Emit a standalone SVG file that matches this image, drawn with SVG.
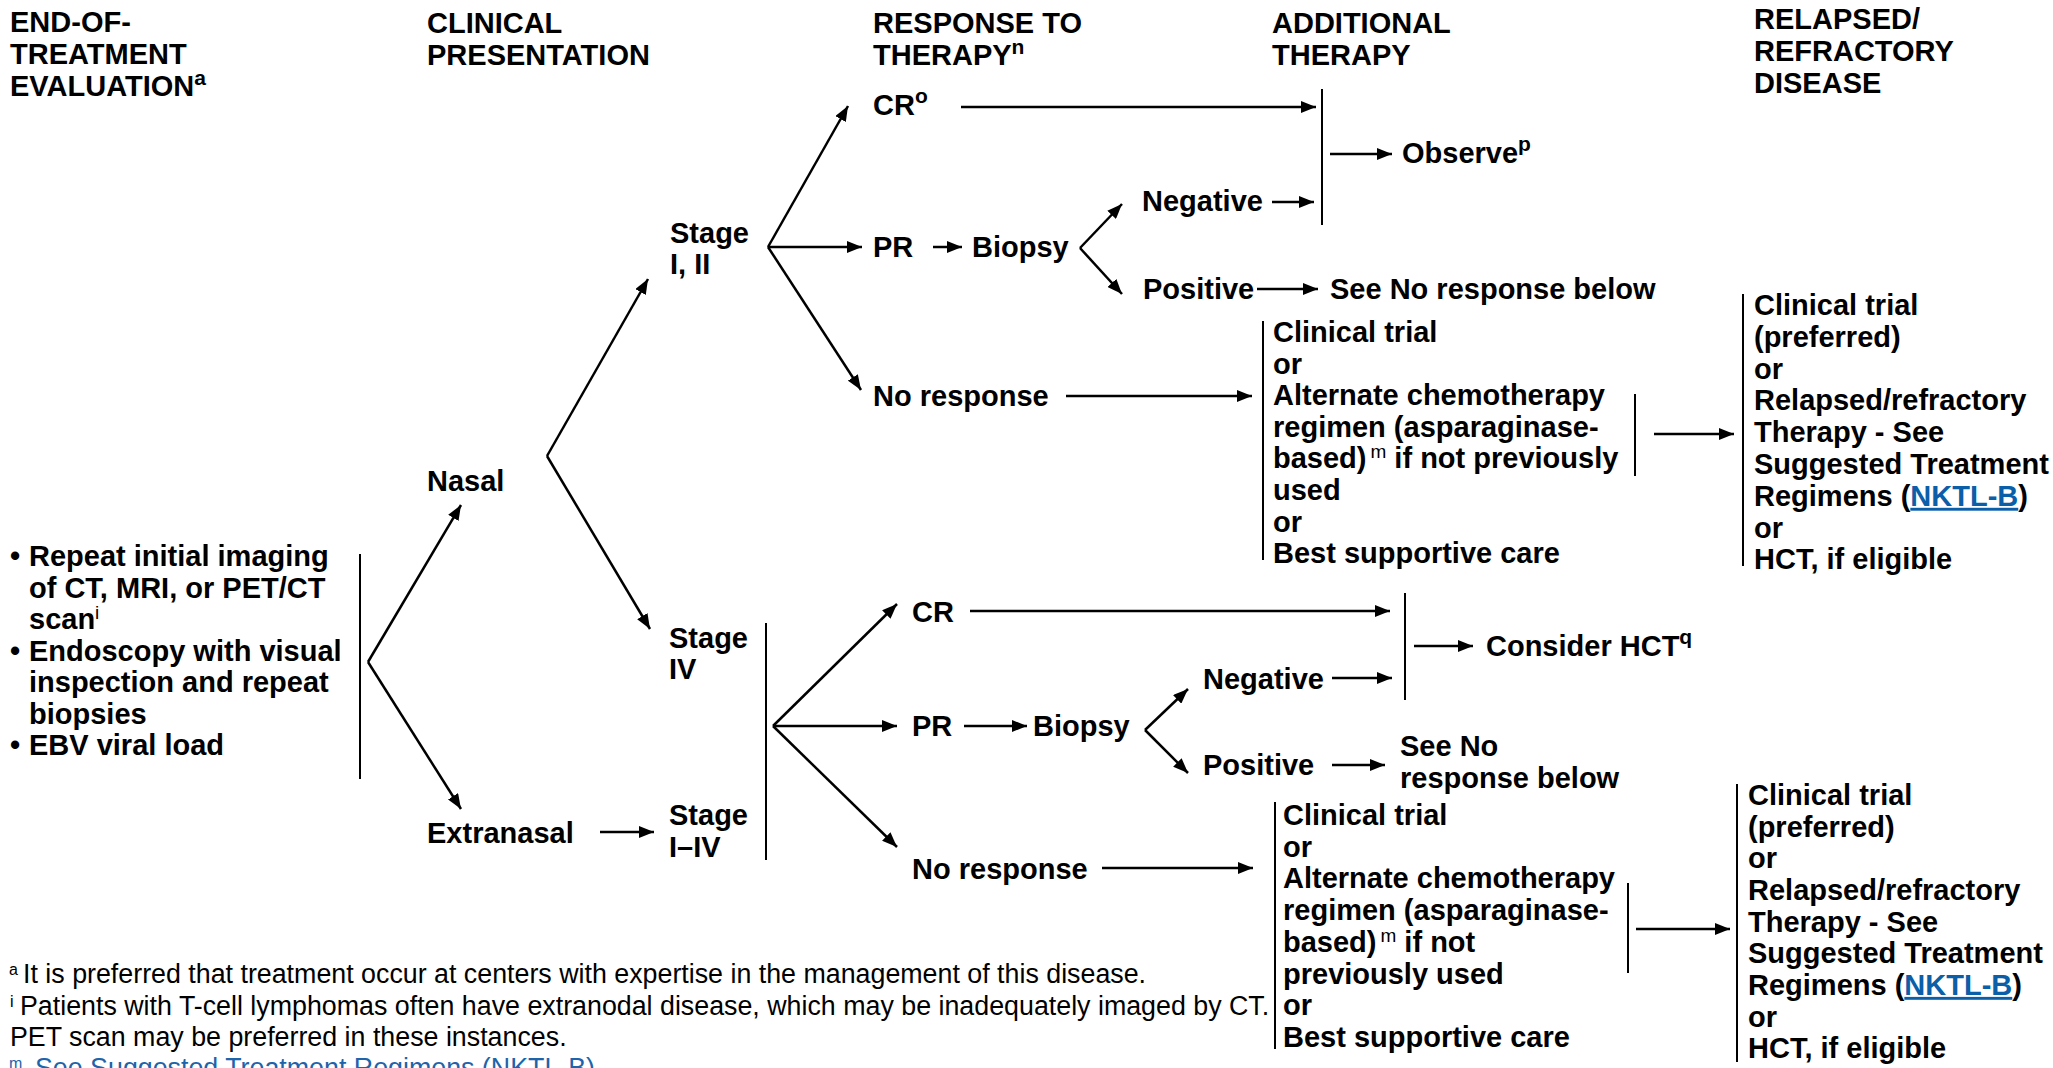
<svg xmlns="http://www.w3.org/2000/svg" width="2053" height="1068" viewBox="0 0 2053 1068">
  <style>
    text { font-family: "Liberation Sans", Arial, Helvetica, sans-serif; fill: #000; }
    .h { font-size: 29px; font-weight: bold; }
    .b { font-size: 29px; font-weight: bold; }
    .sup { font-size: 21px; font-weight: bold; }
    .supn { font-size: 19px; font-weight: normal; }
    .fn { font-size: 26.8px; font-weight: normal; }
    .fsup { font-size: 16px; font-weight: normal; }
    .link { fill: #0b5ea8; text-decoration: underline; }
    .flink { fill: #1d64ab; }
    .arr { stroke: #000; stroke-width: 2.5; fill: none; marker-end: url(#ah); }
    .bar { stroke: #000; stroke-width: 2; fill: none; }
  </style>
  <defs>
    <marker id="ah" markerUnits="userSpaceOnUse" markerWidth="16" markerHeight="12" refX="15" refY="6" orient="auto">
      <path d="M0,0 L15,6 L0,12 z" fill="#000"/>
    </marker>
  </defs>
  <rect width="2053" height="1068" fill="#fff"/>

  <!-- column headings -->
  <g id="headings">
    <text class="h" x="10" y="32">END-OF-</text>
    <text class="h" x="10" y="64">TREATMENT</text>
    <text class="h" x="10" y="96">EVALUATION<tspan class="sup" dy="-11">a</tspan></text>
    <text class="h" x="427" y="33">CLINICAL</text>
    <text class="h" x="427" y="65">PRESENTATION</text>
    <text class="h" x="873" y="33">RESPONSE TO</text>
    <text class="h" x="873" y="65">THERAPY<tspan class="sup" dy="-11">n</tspan></text>
    <text class="h" x="1272" y="33">ADDITIONAL</text>
    <text class="h" x="1272" y="65">THERAPY</text>
    <text class="h" x="1754" y="29">RELAPSED/</text>
    <text class="h" x="1754" y="61">REFRACTORY</text>
    <text class="h" x="1754" y="93">DISEASE</text>
  </g>

  <!-- evaluation -->
  <g id="evaluation">
    <text class="b" x="10" y="566">•</text>
    <text class="b" x="29" y="566">Repeat initial imaging</text>
    <text class="b" x="29" y="597.5">of CT, MRI, or PET/CT</text>
    <text class="b" x="29" y="629">scan<tspan class="supn" dy="-10">i</tspan></text>
    <text class="b" x="10" y="660.5">•</text>
    <text class="b" x="29" y="660.5">Endoscopy with visual</text>
    <text class="b" x="29" y="692">inspection and repeat</text>
    <text class="b" x="29" y="723.5">biopsies</text>
    <text class="b" x="10" y="755">•</text>
    <text class="b" x="29" y="755">EBV viral load</text>
  </g>

  <g id="nasal"><text class="b" x="427" y="491">Nasal</text></g>
  <g id="extranasal"><text class="b" x="427" y="843">Extranasal</text></g>

  <g id="stage-1-2">
    <text class="b" x="670" y="243">Stage</text>
    <text class="b" x="670" y="274">I, II</text>
  </g>
  <g id="stage-4">
    <text class="b" x="669" y="648">Stage</text>
    <text class="b" x="669" y="679">IV</text>
  </g>
  <g id="stage-1-4">
    <text class="b" x="669" y="825">Stage</text>
    <text class="b" x="669" y="857">I–IV</text>
  </g>

  <!-- upper branch: stage I, II -->
  <g id="cr-top"><text class="b" x="873" y="115">CR<tspan class="sup" dy="-12">o</tspan></text></g>
  <g id="pr-top"><text class="b" x="873" y="257">PR</text></g>
  <g id="biopsy-top"><text class="b" x="972" y="257">Biopsy</text></g>
  <g id="negative-top"><text class="b" x="1142" y="211">Negative</text></g>
  <g id="positive-top"><text class="b" x="1143" y="299">Positive</text></g>
  <g id="see-top"><text class="b" x="1330" y="299">See No response below</text></g>
  <g id="observe"><text class="b" x="1402" y="163">Observe<tspan class="sup" dy="-12">p</tspan></text></g>
  <g id="noresp-top"><text class="b" x="873" y="406">No response</text></g>

  <g id="options-top">
    <text class="b" x="1273" y="342">Clinical trial</text>
    <text class="b" x="1273" y="373.6">or</text>
    <text class="b" x="1273" y="405.2">Alternate chemotherapy</text>
    <text class="b" x="1273" y="436.8">regimen (asparaginase-</text>
    <text class="b" x="1273" y="468.4">based)<tspan class="supn" dx="4" dy="-10">m</tspan><tspan dy="10"> if not previously</tspan></text>
    <text class="b" x="1273" y="500">used</text>
    <text class="b" x="1273" y="531.6">or</text>
    <text class="b" x="1273" y="563.2">Best supportive care</text>
  </g>

  <g id="relapsed-top">
    <text class="b" x="1754" y="315">Clinical trial</text>
    <text class="b" x="1754" y="346.8">(preferred)</text>
    <text class="b" x="1754" y="378.6">or</text>
    <text class="b" x="1754" y="410.4">Relapsed/refractory</text>
    <text class="b" x="1754" y="442.2">Therapy - See</text>
    <text class="b" x="1754" y="474">Suggested Treatment</text>
    <text class="b" x="1754" y="505.8">Regimens (<tspan class="link">NKTL-B</tspan>)</text>
    <text class="b" x="1754" y="537.6">or</text>
    <text class="b" x="1754" y="569.4">HCT, if eligible</text>
  </g>

  <!-- lower branch: stage IV and extranasal -->
  <g id="cr-bottom"><text class="b" x="912" y="622">CR</text></g>
  <g id="pr-bottom"><text class="b" x="912" y="736">PR</text></g>
  <g id="biopsy-bottom"><text class="b" x="1033" y="736">Biopsy</text></g>
  <g id="negative-bottom"><text class="b" x="1203" y="689">Negative</text></g>
  <g id="positive-bottom"><text class="b" x="1203" y="775">Positive</text></g>
  <g id="see-bottom">
    <text class="b" x="1400" y="756">See No</text>
    <text class="b" x="1400" y="788">response below</text>
  </g>
  <g id="consider-hct"><text class="b" x="1486" y="656">Consider HCT<tspan class="sup" dy="-12">q</tspan></text></g>
  <g id="noresp-bottom"><text class="b" x="912" y="879">No response</text></g>

  <g id="options-bottom">
    <text class="b" x="1283" y="825">Clinical trial</text>
    <text class="b" x="1283" y="856.7">or</text>
    <text class="b" x="1283" y="888.4">Alternate chemotherapy</text>
    <text class="b" x="1283" y="920.1">regimen (asparaginase-</text>
    <text class="b" x="1283" y="951.8">based)<tspan class="supn" dx="4" dy="-10">m</tspan><tspan dy="10"> if not</tspan></text>
    <text class="b" x="1283" y="983.5">previously used</text>
    <text class="b" x="1283" y="1015.2">or</text>
    <text class="b" x="1283" y="1046.9">Best supportive care</text>
  </g>

  <g id="relapsed-bottom">
    <text class="b" x="1748" y="805">Clinical trial</text>
    <text class="b" x="1748" y="836.6">(preferred)</text>
    <text class="b" x="1748" y="868.3">or</text>
    <text class="b" x="1748" y="899.9">Relapsed/refractory</text>
    <text class="b" x="1748" y="931.6">Therapy - See</text>
    <text class="b" x="1748" y="963.2">Suggested Treatment</text>
    <text class="b" x="1748" y="994.9">Regimens (<tspan class="link">NKTL-B</tspan>)</text>
    <text class="b" x="1748" y="1026.5">or</text>
    <text class="b" x="1748" y="1058.2">HCT, if eligible</text>
  </g>

  <!-- connectors -->
  <g id="connectors">
    <line class="bar" x1="360" y1="554" x2="360" y2="779"/>
    <line class="arr" x1="368" y1="662" x2="461" y2="505"/>
    <line class="arr" x1="368" y1="662" x2="461" y2="809"/>

    <line class="arr" x1="547" y1="456" x2="648" y2="279"/>
    <line class="arr" x1="547" y1="456" x2="650" y2="629"/>

    <line class="arr" x1="768" y1="247" x2="848" y2="106"/>
    <line class="arr" x1="768" y1="247" x2="862" y2="247"/>
    <line class="arr" x1="768" y1="247" x2="861" y2="390"/>

    <line class="arr" x1="961" y1="107" x2="1316" y2="107"/>
    <line class="bar" x1="1322" y1="89" x2="1322" y2="225"/>
    <line class="arr" x1="1330" y1="154" x2="1392" y2="154"/>
    <line class="arr" x1="933" y1="247" x2="962" y2="247"/>
    <line class="arr" x1="1080" y1="248" x2="1122" y2="204"/>
    <line class="arr" x1="1080" y1="248" x2="1122" y2="294"/>
    <line class="arr" x1="1272" y1="202" x2="1314" y2="202"/>
    <line class="arr" x1="1257" y1="289" x2="1318" y2="289"/>
    <line class="arr" x1="1066" y1="396" x2="1252" y2="396"/>
    <line class="bar" x1="1263" y1="321" x2="1263" y2="560"/>
    <line class="bar" x1="1635" y1="394" x2="1635" y2="476"/>
    <line class="arr" x1="1654" y1="434" x2="1734" y2="434"/>
    <line class="bar" x1="1743" y1="294" x2="1743" y2="566"/>

    <line class="arr" x1="600" y1="832" x2="654" y2="832"/>
    <line class="bar" x1="766" y1="623" x2="766" y2="860"/>
    <line class="arr" x1="773" y1="726" x2="897" y2="604"/>
    <line class="arr" x1="773" y1="726" x2="897" y2="726"/>
    <line class="arr" x1="773" y1="726" x2="897" y2="847"/>

    <line class="arr" x1="970" y1="611" x2="1390" y2="611"/>
    <line class="bar" x1="1405" y1="593" x2="1405" y2="700"/>
    <line class="arr" x1="1414" y1="646" x2="1473" y2="646"/>
    <line class="arr" x1="964" y1="726" x2="1027" y2="726"/>
    <line class="arr" x1="1145" y1="730" x2="1188" y2="689"/>
    <line class="arr" x1="1145" y1="730" x2="1188" y2="773"/>
    <line class="arr" x1="1332" y1="678" x2="1392" y2="678"/>
    <line class="arr" x1="1332" y1="765" x2="1385" y2="765"/>
    <line class="arr" x1="1102" y1="868" x2="1253" y2="868"/>
    <line class="bar" x1="1275" y1="802" x2="1275" y2="1049"/>
    <line class="bar" x1="1628" y1="883" x2="1628" y2="973"/>
    <line class="arr" x1="1636" y1="929" x2="1730" y2="929"/>
    <line class="bar" x1="1737" y1="784" x2="1737" y2="1062"/>
  </g>

  <!-- footnotes -->
  <g id="footnotes">
    <text class="fsup" x="9" y="975">a</text>
    <text class="fn" x="23" y="983">It is preferred that treatment occur at centers with expertise in the management of this disease.</text>
    <text class="fsup" x="10" y="1007">i</text>
    <text class="fn" x="20" y="1015">Patients with T-cell lymphomas often have extranodal disease, which may be inadequately imaged by CT.</text>
    <text class="fn" x="10" y="1046">PET scan may be preferred in these instances.</text>
    <text class="fsup flink" x="9" y="1069">m</text>
    <text class="fn flink" x="35" y="1077">See Suggested Treatment Regimens (NKTL-B)</text>
  </g>
</svg>
